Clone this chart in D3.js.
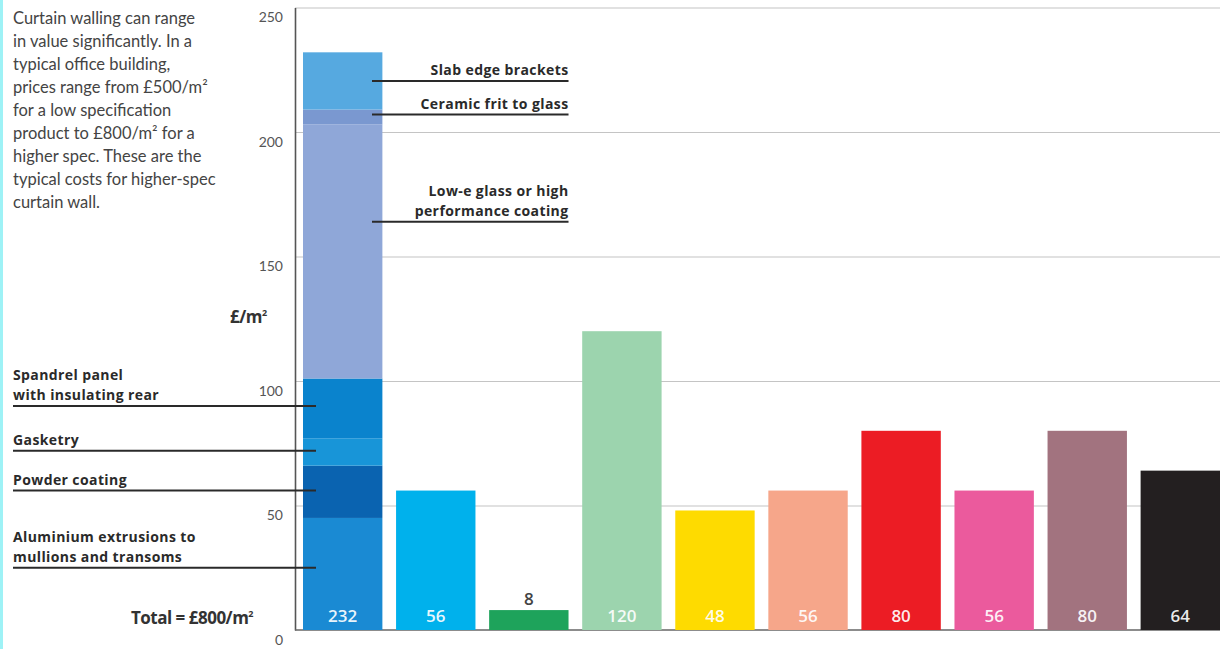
<!DOCTYPE html>
<html>
<head>
<meta charset="utf-8">
<script src="https://cdn.jsdelivr.net/npm/d3@7"></script>
<style>
  body { margin: 0; background: #fff; }
  text { font-family: "Open Sans", sans-serif; }
</style>
</head>
<body>
<div id="container"></div>
<script>
/* CONSTANTS AND GLOBALS */
const width = 1220,
  height = 649,
  axisX = 295;

/* DATA */
const barValues = [232, 56, 8, 120, 48, 56, 80, 56, 80, 64];
const barColors = ["#1a8ad3", "#00b1ec", "#1ea35b", "#9cd4ae", "#fedb00", "#f6a68a", "#ec1c24", "#eb5a9d", "#a2737f", "#231f20"];

// components of the first (stacked) bar, bottom to top
const stackNames = [
  ["Aluminium extrusions to", "mullions and transoms"],
  ["Powder coating"],
  ["Gasketry"],
  ["Spandrel panel", "with insulating rear"],
  ["Low-e glass or high", "performance coating"],
  ["Ceramic frit to glass"],
  ["Slab edge brackets"]
];
const stackValues = [45, 21, 11, 24, 102, 6, 23];
const stackColors = ["#1a8ad3", "#0a63b0", "#1895d8", "#0a83cd", "#8fa7d8", "#7a98d0", "#56a9e0"];
const leaderValues = [25, 56, 72, 90, 164, 207, 220.5];
const labelSide = ["left", "left", "left", "left", "right", "right", "right"];

const yTicks = [0, 50, 100, 150, 200, 250];

const introText = [
  "Curtain walling can range",
  "in value significantly. In a",
  "typical office building,",
  "prices range from £500/m²",
  "for a low specification",
  "product to £800/m² for a",
  "higher spec. These are the",
  "typical costs for higher-spec",
  "curtain wall."
];

const svg = d3.select("#container")
  .append("svg")
  .attr("width", width)
  .attr("height", height)

svg.append("rect")
  .attr("width", width).attr("height", height)
  .attr("fill", "#fff")
svg.append("rect")
  .attr("width", 3).attr("height", height)
  .attr("fill", "#9ef2f6")

/* SCALES */
const xScale = d3.scaleBand()
  .domain(d3.range(barValues.length))
  .range([303, 1220])
  .paddingInner(0.147)
  .paddingOuter(0)

const yScale = d3.scaleLinear()
  .domain([0, 250])
  .range([630, 7.5])

/* GRID + AXES */
svg.append("g")
  .attr("transform", `translate(${axisX},0)`)
  .call(d3.axisLeft(yScale).tickValues(yTicks.slice(1)).tickSize(-(width - axisX)).tickFormat(""))
  .call(g => g.select(".domain").remove())
  .call(g => g.selectAll("line").attr("stroke", "#c4c4c4").attr("stroke-width", 1.2))

const yAxis = svg.append("g")
  .attr("transform", `translate(${axisX},0)`)
  .call(d3.axisLeft(yScale).tickValues(yTicks).tickSize(0).tickPadding(12))
yAxis.select(".domain").attr("stroke", "#555").attr("stroke-width", 1.6)
yAxis.selectAll("text")
  .attr("y", 10)
  .attr("fill", "#555")
  .style("font-size", "14px")
  .style("font-family", "Lato, sans-serif")

svg.append("line")
  .attr("x1", axisX).attr("x2", width)
  .attr("y1", yScale(0)).attr("y2", yScale(0))
  .attr("stroke", "#666").attr("stroke-width", 1.6)

/* BARS */
// stacked first bar
const stack = [];
let acc = 0;
stackValues.forEach((v, i) => { stack.push({ y0: acc, y1: acc + v, i }); acc += v; });

svg.selectAll(".seg")
  .data(stack)
  .join("rect")
  .attr("class", "seg")
  .attr("x", xScale(0))
  .attr("width", xScale.bandwidth())
  .attr("y", d => yScale(d.y1))
  .attr("height", d => yScale(d.y0) - yScale(d.y1))
  .attr("fill", d => stackColors[d.i])

svg.selectAll(".bar")
  .data(barValues.slice(1).map((v, i) => ({ v, i: i + 1 })))
  .join("rect")
  .attr("class", "bar")
  .attr("x", d => xScale(d.i))
  .attr("width", xScale.bandwidth())
  .attr("y", d => yScale(d.v))
  .attr("height", d => yScale(0) - yScale(d.v))
  .attr("fill", d => barColors[d.i])

// value labels
svg.selectAll(".val")
  .data(barValues.map((v, i) => ({ v, i })))
  .join("text")
  .attr("class", "val")
  .attr("x", d => xScale(d.i) + xScale.bandwidth() / 2)
  .attr("y", d => d.v < 15 ? yScale(d.v) - 5 : 622)
  .attr("text-anchor", "middle")
  .attr("fill", d => d.v < 15 ? "#444" : "#fff")
  .attr("fill-opacity", d => d.v < 15 ? 1 : 0.92)
  .style("font-size", "17px")
  .style("font-weight", 600)
  .text(d => d.v)

/* LEADER LABELS */
const ann = svg.append("g")
stackNames.forEach((lines, i) => {
  const ly = yScale(leaderValues[i]);
  const left = labelSide[i] === "left";
  const x1 = left ? 13 : xScale(0) + 69;
  const x2 = left ? xScale(0) + 13 : xScale(2) + xScale.bandwidth();
  ann.append("line")
    .attr("x1", x1).attr("x2", x2)
    .attr("y1", ly).attr("y2", ly)
    .attr("stroke", "#2a2a2a").attr("stroke-width", 2)
  lines.forEach((t, j) => {
    ann.append("text")
      .attr("x", left ? 13 : x2)
      .attr("y", ly - 6 - (lines.length - 1 - j) * 20)
      .attr("text-anchor", left ? "start" : "end")
      .attr("fill", "#2a2a2a")
      .style("font-size", "14px")
      .style("font-weight", 700)
      .style("letter-spacing", "0.4px")
      .text(t)
  })
})

/* TEXTS */
svg.append("g").selectAll("text")
  .data(introText)
  .join("text")
  .attr("x", 13)
  .attr("y", (d, i) => 24 + i * 23)
  .attr("fill", "#444")
  .style("font-family", "Lato, sans-serif")
  .style("font-size", "16.5px")
  .text(d => d)

const unit = svg.append("text")
  .attr("x", 230).attr("y", 323)
  .attr("fill", "#333")
  .style("font-size", "17px")
  .style("font-weight", 700)
  .style("letter-spacing", "-0.5px")
unit.append("tspan").text("£/m")
unit.append("tspan").attr("dy", -7).style("font-size", "9px").text("2")

const total = svg.append("text")
  .attr("x", 253).attr("y", 624)
  .attr("text-anchor", "end")
  .attr("fill", "#333")
  .style("font-size", "17px")
  .style("font-weight", 700)
  .style("letter-spacing", "-0.5px")
total.append("tspan").text("Total = £800/m")
total.append("tspan").attr("dy", -7).style("font-size", "9px").text("2")
</script>
</body>
</html>
